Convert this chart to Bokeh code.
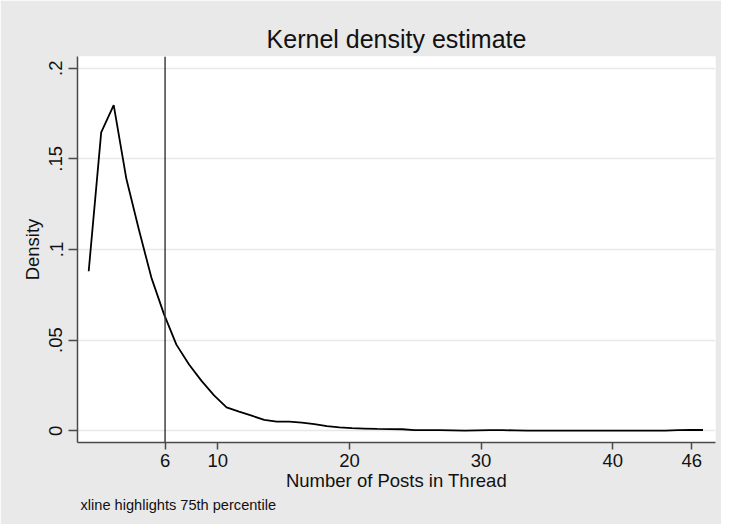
from bokeh.plotting import figure
from bokeh.models import Span, Title, FixedTicker, Range1d
from bokeh.embed import file_html
from bokeh.resources import INLINE

# Data: kernel density estimate evaluated on a grid
posts = [0.20, 1.15, 2.10, 3.06, 4.01, 4.96, 5.91, 6.86, 7.82, 8.77,
         9.72, 10.67, 11.62, 12.58, 13.53, 14.48, 15.43, 16.39, 17.34, 18.29,
         19.24, 20.19, 21.14, 22.10, 23.05, 24.00, 24.95, 25.90, 26.86, 27.81,
         28.76, 29.71, 30.66, 31.62, 32.57, 33.52, 34.47, 35.42, 36.38, 37.33,
         38.28, 39.23, 40.18, 41.14, 42.09, 43.04, 43.99, 44.94, 45.90, 46.85]
density = [0.0880, 0.1646, 0.1797, 0.1390, 0.1110, 0.0845, 0.0645, 0.0475, 0.0365, 0.0275,
           0.0195, 0.0129, 0.0105, 0.0083, 0.0060, 0.0050, 0.0050, 0.0045, 0.0036, 0.0025,
           0.0019, 0.0014, 0.0012, 0.0010, 0.0009, 0.0008, 0.0003, 0.0003, 0.0003, 0.0002,
           0.0001, 0.0002, 0.0003, 0.0003, 0.0002, 0.0001, 0.0001, 0.0001, 0.0001, 0.0001,
           0.0001, 0.0001, 0.0001, 0.0001, 0.0001, 0.0001, 0.0001, 0.0003, 0.0004, 0.0004]
percentile_75 = 6

x_ticks = [6, 10, 20, 30, 40, 46]
y_ticks = [0, 0.05, 0.1, 0.15, 0.2]
y_tick_labels = ["0", ".05", ".1", ".15", ".2"]

title_text = "Kernel density estimate"
x_label = "Number of Posts in Thread"
y_label = "Density"
note_text = "xline highlights 75th percentile"

FONT = "Liberation Sans"
AXIS_COLOR = "#4a4a4a"
BG = "#e9e9e9"

p = figure(width=721, height=524,
           x_range=Range1d(-0.65, 47.8), y_range=Range1d(-0.0065, 0.2065),
           output_backend="svg", toolbar_location=None,
           min_border_left=77, min_border_top=56, min_border_right=6, min_border_bottom=82)

p.border_fill_color = BG
p.border_fill_alpha = 1.0
p.background_fill_color = "white"
p.outline_line_color = None

p.line(posts, density, line_color="black", line_width=1.8)
p.add_layout(Span(location=percentile_75, dimension="height",
                  line_color="#333333", line_width=1.4))

# Title
p.title.text = title_text
p.title.align = "center"
p.title.text_font = FONT
p.title.text_font_size = "25px"
p.title.text_font_style = "normal"
p.title.text_color = "#111111"
p.title.standoff = 8

# Axes
xa = p.xaxis[0]
xa.ticker = FixedTicker(ticks=x_ticks)
xa.axis_label = x_label
ya = p.yaxis[0]
ya.ticker = FixedTicker(ticks=y_ticks)
ya.major_label_overrides = {(0 if t == 0 else t): lab for t, lab in zip(y_ticks, y_tick_labels)}
ya.axis_label = y_label
ya.major_label_orientation = "vertical"

for ax in (xa, ya):
    ax.axis_line_color = AXIS_COLOR
    ax.axis_line_width = 1.5
    ax.major_tick_line_color = AXIS_COLOR
    ax.major_tick_line_width = 1.5
    ax.major_tick_in = 0
    ax.minor_tick_line_color = None
    ax.major_label_text_font = FONT
    ax.major_label_text_font_size = "18.5px"
    ax.major_label_text_color = "#111111"
    ax.axis_label_text_font = FONT
    ax.axis_label_text_font_size = "18.5px"
    ax.axis_label_text_font_style = "normal"
    ax.axis_label_text_color = "#111111"

xa.major_tick_out = 7
xa.major_label_standoff = 4
xa.axis_label_standoff = 0
ya.major_tick_out = 9
ya.major_label_standoff = 6
ya.axis_label_standoff = 4

p.xgrid.visible = False
p.ygrid.grid_line_color = "#e8e8e8"
p.ygrid.grid_line_width = 1.5

note = Title(text=note_text, align="left", offset=3, standoff=2, text_font=FONT,
             text_font_size="14.6px", text_font_style="normal", text_color="#111111")
p.add_layout(note, "below")

open("out.html", "w").write(file_html(p, INLINE))
